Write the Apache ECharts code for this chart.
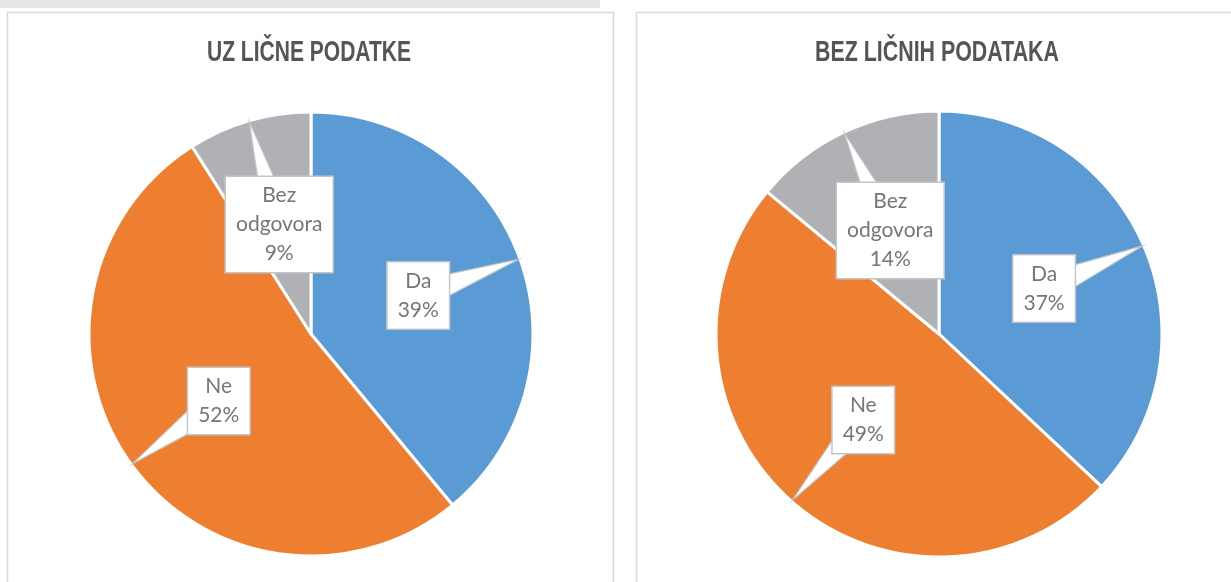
<!DOCTYPE html>
<html>
<head>
<meta charset="utf-8">
<script src="https://cdn.jsdelivr.net/npm/echarts@6/dist/echarts.min.js"></script>
<style>
  html, body { margin: 0; padding: 0; background: #ffffff; }
  #chart { width: 1231px; height: 582px; }
</style>
</head>
<body>
<div id="chart"></div>
<script>
// ---- data ----
const categories = ['Da', 'Ne', 'Bez odgovora'];
const valuesWithPersonal = [39, 52, 9];
const valuesWithoutPersonal = [37, 49, 14];
const chartTitles = ['UZ LIČNE PODATKE', 'BEZ LIČNIH PODATAKA'];

// ---- style ----
const colors = ['#5b9bd5', '#ee7f31', '#b0b1b5'];
const pies = [
  { center: [311, 334], radius: 222, values: valuesWithPersonal, titleX: 309, titleW: 204 },
  { center: [939, 334], radius: 223, values: valuesWithoutPersonal, titleX: 937, titleW: 244 }
];
const titleFont = 'bold 30px "Liberation Sans", Arial, sans-serif';

function measure(text, font) {
  const c = document.createElement('canvas').getContext('2d');
  c.font = font;
  return c.measureText(text).width;
}

function toData(values) {
  return categories.map((c, i) => ({ name: c, value: values[i], itemStyle: { color: colors[i] } }));
}

const chart = echarts.init(document.getElementById('chart'), null, { renderer: 'canvas' });

const series = [];
pies.forEach((p, k) => {
  series.push({
    type: 'pie', id: 'sectors' + k, z: 2, silent: true,
    center: p.center, radius: p.radius, startAngle: 90, clockwise: true,
    data: toData(p.values),
    itemStyle: { borderColor: '#ffffff', borderWidth: 3 },
    label: { show: false }, labelLine: { show: false }
  });
});
pies.forEach((p, k) => {
  series.push({
    type: 'pie', id: 'labels' + k, z: 4, silent: true,
    center: p.center, radius: p.radius, startAngle: 90, clockwise: true,
    data: toData(p.values).map(d => Object.assign(d, { itemStyle: { color: 'rgba(0,0,0,0)', borderWidth: 0 } })),
    label: {
      show: true, position: 'inside',
      formatter: (pr) => pr.name.replace(' ', '\n') + '\n' + pr.value + '%',
      fontFamily: 'Lato', fontSize: 21, lineHeight: 29, color: '#767676',
      align: 'center',
      backgroundColor: '#ffffff', borderColor: '#c2c6c9', borderWidth: 1.5,
      padding: [5, 10, 3, 10]
    },
    labelLine: { show: false },
    emphasis: { disabled: true }
  });
});

function staticGraphics() {
  const g = [
    { type: 'rect', id: 'topbar', z: 0, shape: { x: 0, y: 0, width: 600, height: 8 }, style: { fill: '#e6e7e8' }, silent: true },
    { type: 'rect', id: 'panelL', z: 0, shape: { x: 7.5, y: 12.5, width: 606, height: 640 }, style: { fill: 'none', stroke: '#d9d9d9', lineWidth: 1.5 }, silent: true },
    { type: 'rect', id: 'panelR', z: 0, shape: { x: 636.5, y: 12.5, width: 700, height: 640 }, style: { fill: 'none', stroke: '#d9d9d9', lineWidth: 1.5 }, silent: true }
  ];
  pies.forEach((p, k) => {
    const w = measure(chartTitles[k], titleFont) || p.titleW;
    g.push({
      type: 'text', id: 'title' + k, z: 5, silent: true,
      x: p.titleX, y: 53, scaleX: p.titleW / w, scaleY: 1,
      style: {
        text: chartTitles[k], x: 0, y: 0,
        align: 'center', verticalAlign: 'middle', textAlign: 'center', textVerticalAlign: 'middle',
        font: titleFont, fill: '#555555'
      }
    });
  });
  return g;
}

chart.setOption({
  backgroundColor: '#ffffff',
  animation: false,
  series: series,
  graphic: staticGraphics()
});

// Callout pointers: derived from the library's pie layout
function getLayouts(seriesIndex, values, p) {
  try {
    const data = chart.getModel().getSeriesByIndex(seriesIndex).getData();
    const out = [];
    for (let i = 0; i < data.count(); i++) out.push(data.getItemLayout(i));
    return out;
  } catch (e) {
    const sum = values.reduce((a, b) => a + b, 0);
    let a = -Math.PI / 2;
    return values.map(v => {
      const s = a; a += v / sum * Math.PI * 2;
      return { cx: p.center[0], cy: p.center[1], r: p.radius, r0: 0, startAngle: s, endAngle: a };
    });
  }
}

const wedges = [];
pies.forEach((p, k) => {
  const lays = getLayouts(k, p.values, p);
  lays.forEach((L, i) => {
    const mid = (L.startAngle + L.endAngle) / 2;
    const tip = [L.cx + (L.r - 1) * Math.cos(mid), L.cy + (L.r - 1) * Math.sin(mid)];
    const rl = (L.r + (L.r0 || 0)) / 2;
    const c = [L.cx + rl * Math.cos(mid), L.cy + rl * Math.sin(mid)];
    const dx = tip[0] - c[0], dy = tip[1] - c[1];
    const len = Math.sqrt(dx * dx + dy * dy) || 1;
    const nx = -dy / len, ny = dx / len;
    const hw = 15;
    wedges.push({
      type: 'polygon', id: 'wedge' + k + '_' + i, z: 3, silent: true,
      shape: { points: [tip, [c[0] + nx * hw, c[1] + ny * hw], [c[0] - nx * hw, c[1] - ny * hw]] },
      style: { fill: '#ffffff', stroke: '#c2c6c9', lineWidth: 1.2, lineJoin: 'miter' }
    });
  });
});

chart.setOption({ graphic: staticGraphics().concat(wedges) });
</script>
</body>
</html>
